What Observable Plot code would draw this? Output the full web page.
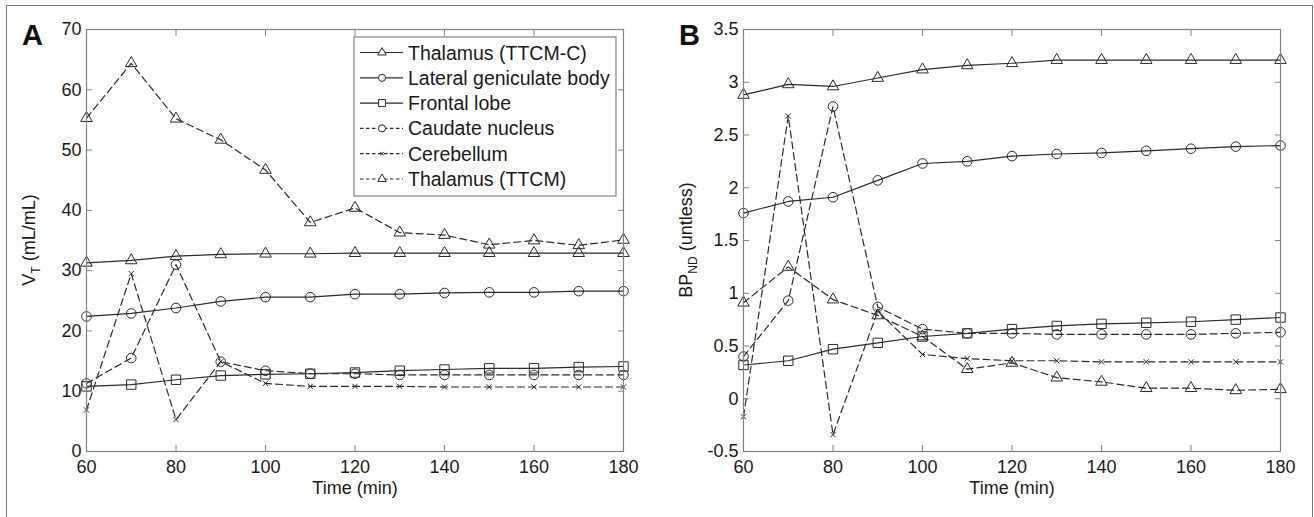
<!DOCTYPE html>
<html><head><meta charset="utf-8">
<script src="https://cdn.jsdelivr.net/npm/d3@7"></script>
<script src="https://cdn.jsdelivr.net/npm/@observablehq/plot@0.6"></script>
<style>
body{margin:0;background:#fff;}
#fig{position:relative;width:1314px;height:517px;overflow:hidden;font-family:"Liberation Sans",Arial,sans-serif;background:#fff;}
#border{position:absolute;left:6px;top:5px;width:1307px;height:540px;border:1.5px solid #777;box-sizing:border-box;}
.panel{position:absolute;top:0;}
.panel svg{overflow:visible;}
</style></head><body>
<div id="fig"><div id="border"></div><div id="left" class="panel" style="left:0"></div><div id="right" class="panel" style="left:657px"></div></div>
<script>
const times = [60, 70, 80, 90, 100, 110, 120, 130, 140, 150, 160, 170, 180];
const seriesNames = ["Thalamus (TTCM-C)", "Lateral geniculate body", "Frontal lobe", "Caudate nucleus", "Cerebellum", "Thalamus (TTCM)"];
const xTicks = [60, 80, 100, 120, 140, 160, 180];

// Panel A: V_T (mL/mL)
const vtThalamusTTCMC = [31.3, 31.7, 32.4, 32.7, 32.8, 32.8, 32.9, 32.9, 32.9, 32.9, 32.9, 32.9, 32.9];
const vtLGB = [22.4, 22.9, 23.8, 24.9, 25.6, 25.6, 26.1, 26.1, 26.3, 26.4, 26.4, 26.6, 26.6];
const vtFrontal = [10.8, 11.1, 11.9, 12.6, 12.8, 12.9, 13.1, 13.4, 13.6, 13.8, 13.8, 14.0, 14.1];
const vtCaudate = [11.3, 15.5, 31.0, 14.9, 13.4, 12.9, 12.9, 12.7, 12.7, 12.7, 12.7, 12.7, 12.7];
const vtCerebellum = [6.9, 29.5, 5.3, 14.9, 11.3, 10.8, 10.8, 10.8, 10.7, 10.7, 10.7, 10.7, 10.7];
const vtThalamusTTCM = [55.3, 64.4, 55.2, 51.7, 46.7, 38.0, 40.4, 36.3, 35.9, 34.3, 35.0, 34.2, 35.1];
const vtTicks = [0, 10, 20, 30, 40, 50, 60, 70];

// Panel B: BP_ND (untless)
const bpThalamusTTCMC = [2.88, 2.98, 2.96, 3.04, 3.12, 3.16, 3.18, 3.21, 3.21, 3.21, 3.21, 3.21, 3.21];
const bpLGB = [1.76, 1.87, 1.91, 2.07, 2.23, 2.25, 2.30, 2.32, 2.33, 2.35, 2.37, 2.39, 2.40];
const bpFrontal = [0.32, 0.36, 0.47, 0.53, 0.59, 0.62, 0.66, 0.69, 0.71, 0.72, 0.73, 0.75, 0.77];
const bpCaudate = [0.40, 0.93, 2.77, 0.87, 0.66, 0.62, 0.62, 0.61, 0.61, 0.61, 0.61, 0.62, 0.63];
const bpCerebellum = [-0.17, 2.68, -0.34, 0.83, 0.42, 0.38, 0.36, 0.36, 0.35, 0.35, 0.35, 0.35, 0.35];
const bpThalamusTTCM = [0.91, 1.25, 0.94, 0.79, 0.59, 0.28, 0.34, 0.20, 0.16, 0.10, 0.10, 0.08, 0.09];
const bpTicks = [-0.5, 0, 0.5, 1, 1.5, 2, 2.5, 3, 3.5];

const INK = "#2b2b2b", FRAME = "#808080";
const FONT = '"Liberation Sans", Arial, sans-serif';
const styles = [
  {symbol: "triangle", r: 4.3, dash: null},
  {symbol: "circle", r: 4.8, dash: null},
  {symbol: "square", r: 5.3, dash: null},
  {symbol: "circle", r: 4.8, dash: "7,4"},
  {symbol: "times", r: 2.5, dash: "7,4"},
  {symbol: "triangle", r: 4.3, dash: "7,4"}
];

function panel(values, yDomain, yTicks) {
  const marks = [];
  values.forEach((vals, i) => {
    const data = times.map((t, j) => ({t, v: vals[j], s: seriesNames[i]}));
    marks.push(Plot.line(data, {x: "t", y: "v", stroke: INK, strokeWidth: 1.2, strokeDasharray: styles[i].dash}));
  });
  values.forEach((vals, i) => {
    const data = times.map((t, j) => ({t, v: vals[j], s: seriesNames[i]}));
    marks.push(Plot.dot(data, {x: "t", y: "v", symbol: () => styles[i].symbol, r: styles[i].r, stroke: INK, strokeWidth: 1, fill: "none"}));
  });
  marks.push(Plot.frame({stroke: FRAME, strokeWidth: 1.2}));
  const tickOpts = {tickSize: -6, tickFormat: () => "", label: null, stroke: FRAME};
  marks.push(Plot.axisX(xTicks, {anchor: "bottom", ...tickOpts}));
  marks.push(Plot.axisX(xTicks, {anchor: "top", ...tickOpts}));
  marks.push(Plot.axisY(yTicks, {anchor: "left", ...tickOpts}));
  marks.push(Plot.axisY(yTicks, {anchor: "right", ...tickOpts}));
  marks.push(Plot.axisX(xTicks, {anchor: "bottom", tickSize: 0, tickPadding: 9, label: null, fill: "#1a1a1a", fontSize: 18}));
  marks.push(Plot.axisY(yTicks, {anchor: "left", tickSize: 0, tickPadding: 5, label: null, fill: "#1a1a1a", fontSize: 18, tickFormat: d => String(d)}));
  marks.push(Plot.text(["Time (min)"], {frameAnchor: "bottom", dy: 42, text: d => d, fontSize: 18, fill: "#1a1a1a"}));
  return Plot.plot({
    width: 657, height: 517,
    marginLeft: 86, marginRight: 34, marginTop: 29, marginBottom: 66,
    x: {domain: [60, 180]},
    y: {domain: yDomain},
    style: {fontFamily: FONT, background: "transparent", color: "#1a1a1a"},
    marks
  });
}

const svgA = panel([vtThalamusTTCMC, vtLGB, vtFrontal, vtCaudate, vtCerebellum, vtThalamusTTCM], [0, 70], vtTicks);
const svgB = panel([bpThalamusTTCMC, bpLGB, bpFrontal, bpCaudate, bpCerebellum, bpThalamusTTCM], [-0.5, 3.5], bpTicks);
document.getElementById("left").appendChild(svgA);
document.getElementById("right").appendChild(svgB);

function addTitle(svg, letter, main, sub, rest) {
  const s = d3.select(svg);
  s.append("text").attr("x", 22).attr("y", 45).attr("font-size", 29).attr("font-weight", "bold")
    .attr("text-anchor", "start").attr("fill", "#111").attr("font-family", FONT).text(letter);
  const t = s.append("text").attr("transform", "translate(35,240) rotate(-90)")
    .attr("text-anchor", "middle").attr("font-size", 18).attr("fill", "#1a1a1a")
    .attr("font-family", FONT);
  t.append("tspan").text(main);
  t.append("tspan").attr("font-size", 12).attr("dy", 5).text(sub);
  t.append("tspan").attr("dy", -5).text(rest);
}
addTitle(svgA, "A", "V", "T", " (mL/mL)");
addTitle(svgB, "B", "BP", "ND", " (untless)");

// legend in panel A
const lg = d3.select(svgA).append("g").attr("font-family", FONT).attr("text-anchor", "start");
lg.append("rect").attr("x", 354).attr("y", 37).attr("width", 262).attr("height", 159)
  .attr("fill", "#fff").attr("stroke", FRAME).attr("stroke-width", 1.2);
const symMap = {triangle: d3.symbolTriangle, circle: d3.symbolCircle, square: d3.symbolSquare, times: d3.symbolTimes};
seriesNames.forEach((name, i) => {
  const y = 52.5 + i * 25.3;
  const st = styles[i];
  lg.append("line").attr("x1", 360).attr("x2", 403).attr("y1", y).attr("y2", y)
    .attr("stroke", INK).attr("stroke-width", 1.2).attr("stroke-dasharray", st.dash ? "3.5,2.5" : null);
  const area = Math.PI * st.r * st.r * 0.55;
  lg.append("path").attr("d", d3.symbol(symMap[st.symbol], area)()).attr("transform", `translate(382,${y})`)
    .attr("fill", "#fff").attr("stroke", INK).attr("stroke-width", 1);
  lg.append("text").attr("x", 408).attr("y", y).attr("dy", "0.36em").attr("font-size", 19.5)
    .attr("text-anchor", "start").attr("fill", "#1a1a1a").text(name);
});
</script>
</body></html>
